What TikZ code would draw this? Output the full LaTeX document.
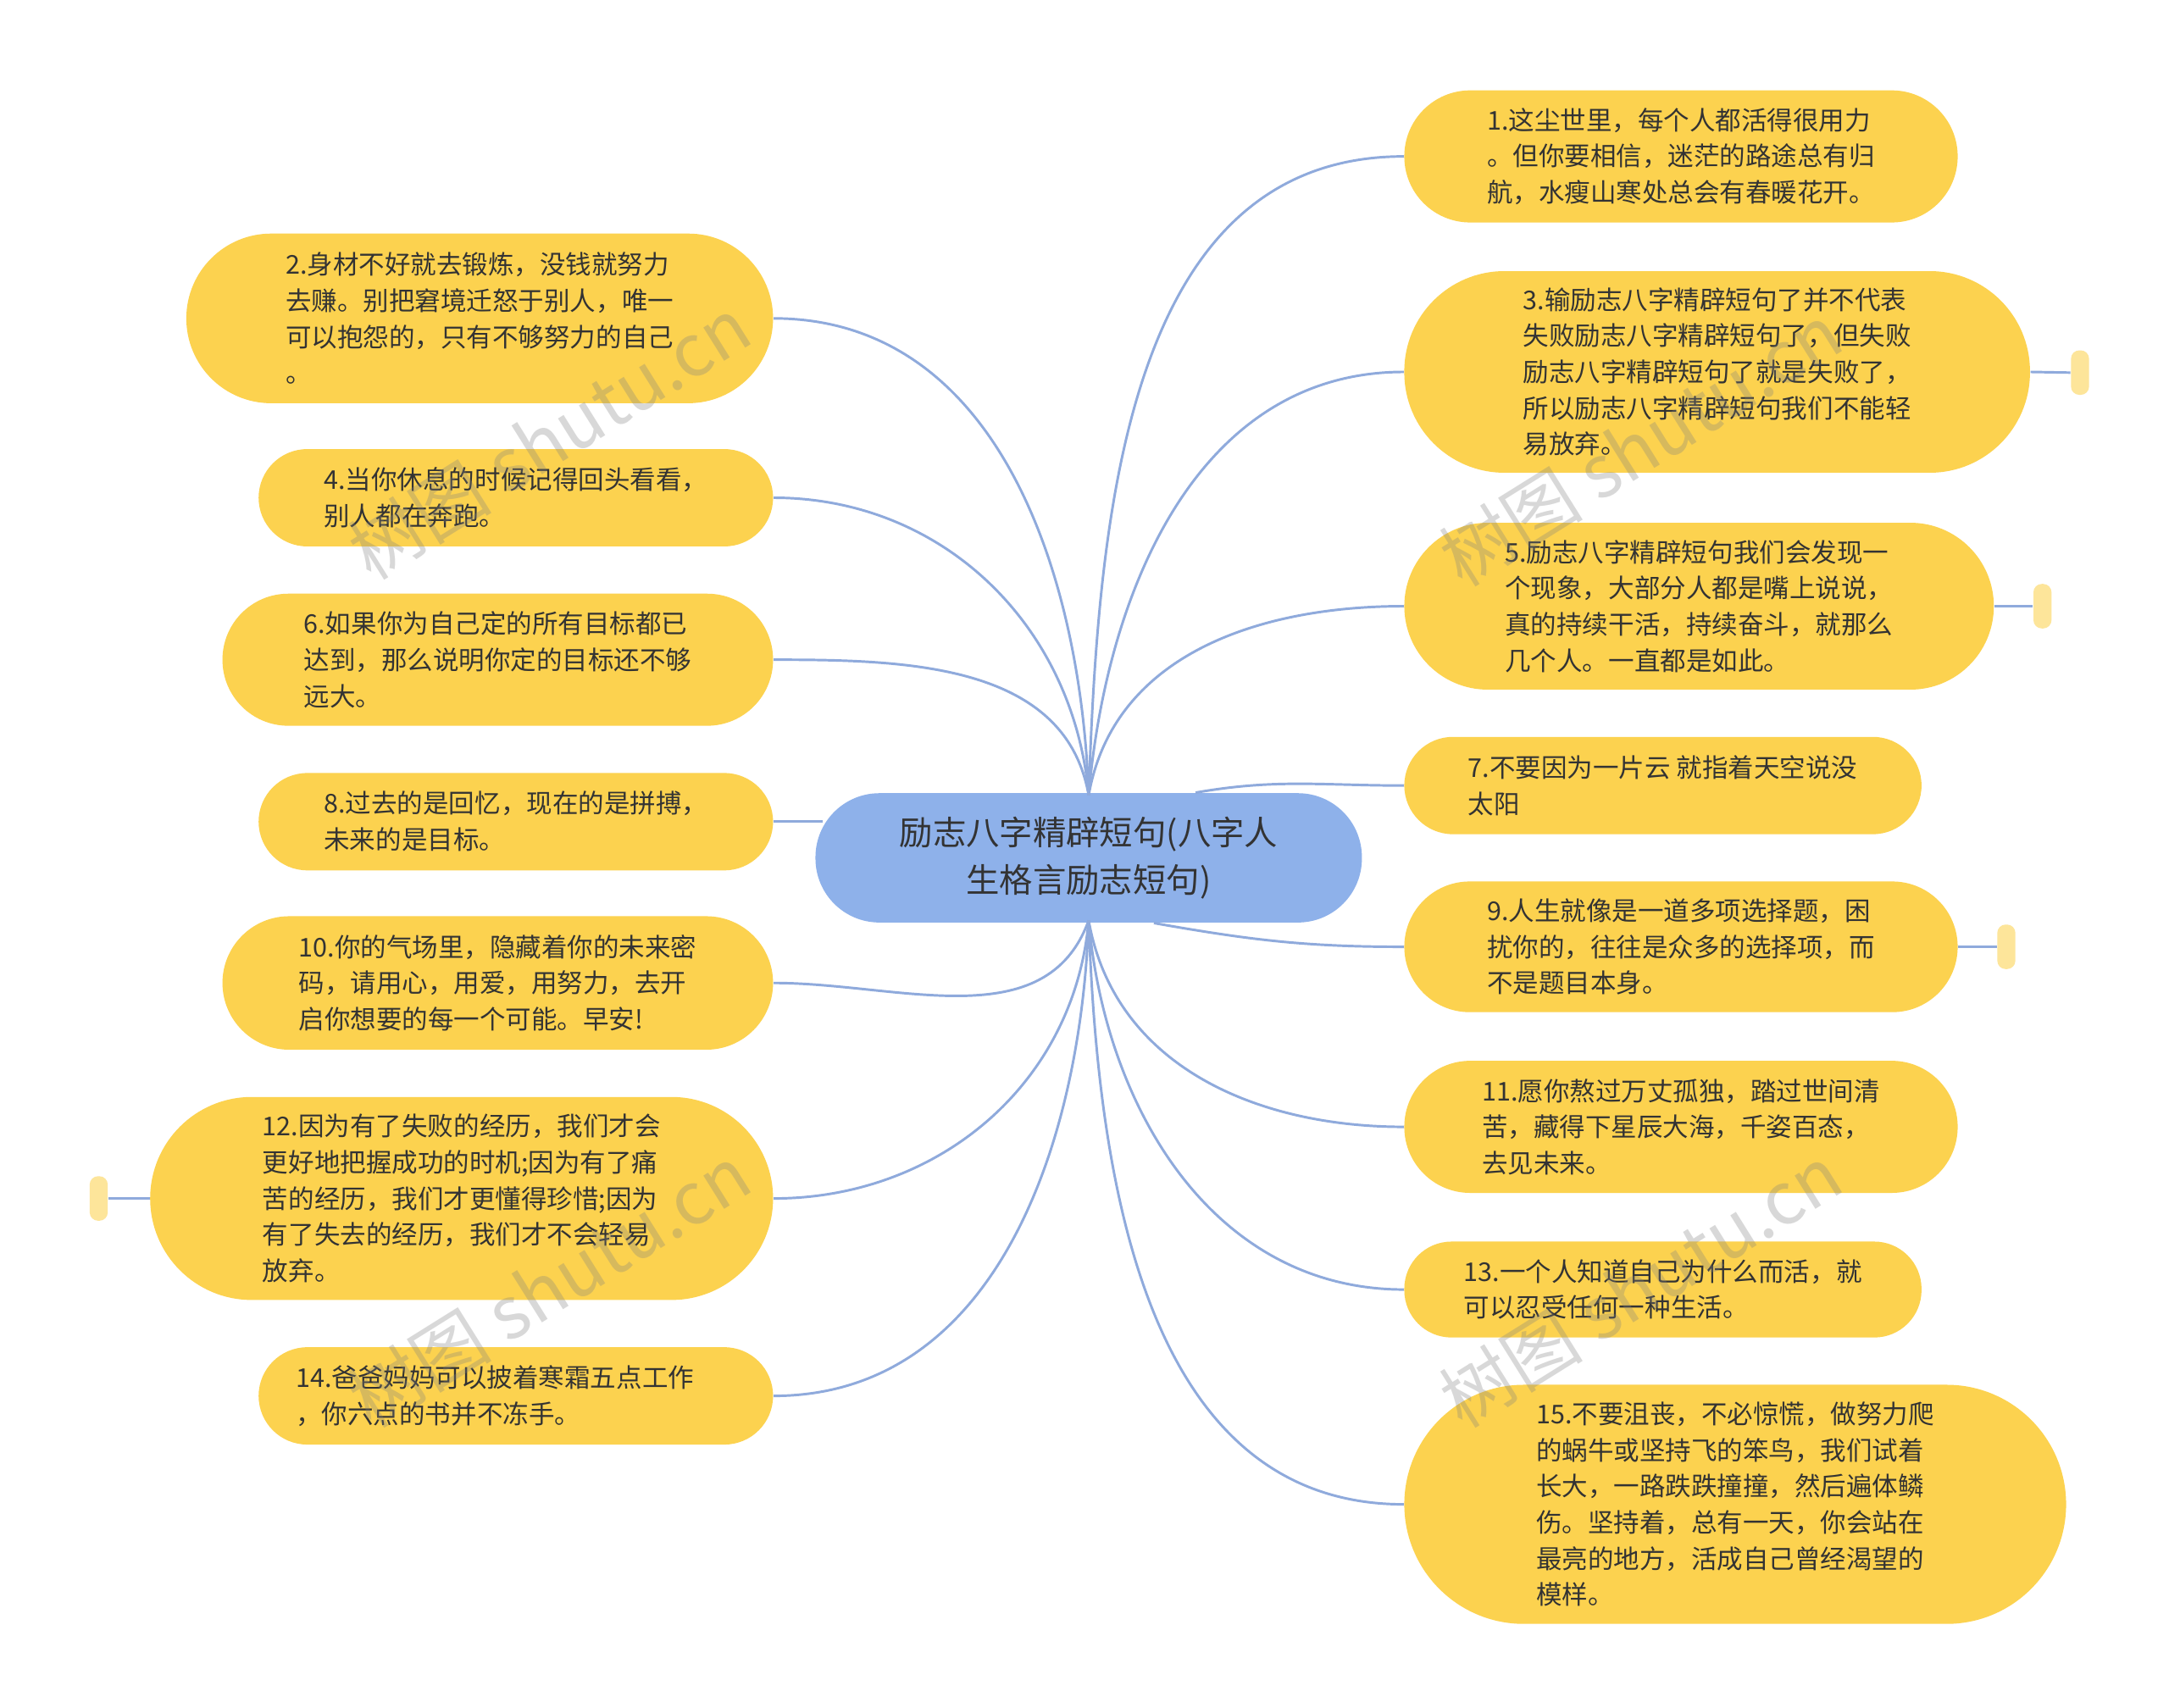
\documentclass[tikz,border=0pt]{standalone}
\usepackage{fontspec}
\setmainfont{Noto Sans CJK SC}
\begin{document}
\begin{tikzpicture}[x=0.5pt,y=-0.5pt,
 leaf/.style={fill=leafc,draw=none,align=left,inner sep=0pt,text=txt,font=\fontsize{9.3pt}{13pt}\selectfont},
 conn/.style={draw=linec,line width=0.9pt},
 tab/.style={fill=tabc,draw=none,minimum width=6.5pt,minimum height=16pt,rounded corners=3pt,inner sep=0pt},
 wm/.style={text=gray,opacity=0.3,font=\fontsize{26pt}{26pt}\selectfont,rotate=32}]
\definecolor{leafc}{HTML}{FCD24F}
\definecolor{linec}{HTML}{8FAADC}
\definecolor{cenc}{HTML}{8EB1EA}
\definecolor{txt}{HTML}{333333}
\definecolor{tabc}{HTML}{FDE59A}
\useasboundingbox (0,0) rectangle (1560,1228);
\fill[white] (0,0) rectangle (1560,1228);
% center
\node[fill=cenc,minimum width=196.5pt,minimum height=46.5pt,rounded corners=23pt,align=center,text=txt,font=\fontsize{12pt}{17pt}\selectfont,inner sep=0pt] (c) at (783,617) {励志八字精辟短句(八字人\\生格言励志短句)};
\coordinate (ct) at (783,572);
\coordinate (cb) at (783,662);
\coordinate (c8) at (592,591);
% right
\node[leaf,minimum width=199pt,minimum height=47.5pt,rounded corners=23.7pt] (n1) at (1209,112.5) {1.这尘世里，每个人都活得很用力\\。但你要相信，迷茫的路途总有归\\航，水瘦山寒处总会有春暖花开。};
\node[leaf,minimum width=225pt,minimum height=72.5pt,rounded corners=36pt] (n3) at (1235,267.5) {3.输励志八字精辟短句了并不代表\\失败励志八字精辟短句了，但失败\\励志八字精辟短句了就是失败了，\\所以励志八字精辟短句我们不能轻\\易放弃。};
\node[leaf,minimum width=212pt,minimum height=60pt,rounded corners=30pt] (n5) at (1222,436) {5.励志八字精辟短句我们会发现一\\个现象，大部分人都是嘴上说说，\\真的持续干活，持续奋斗，就那么\\几个人。一直都是如此。};
\node[leaf,minimum width=186pt,minimum height=35pt,rounded corners=17.5pt] (n7) at (1196,565) {7.不要因为一片云 就指着天空说没\\太阳\phantom{一片云 就指着天空说没}};
\node[leaf,minimum width=199pt,minimum height=47pt,rounded corners=23.5pt] (n9) at (1209,681) {9.人生就像是一道多项选择题，困\\扰你的，往往是众多的选择项，而\\不是题目本身。};
\node[leaf,minimum width=199pt,minimum height=47.5pt,rounded corners=23.7pt] (n11) at (1209,810.5) {11.愿你熬过万丈孤独，踏过世间清\\苦，藏得下星辰大海，千姿百态，\\去见未来。};
\node[leaf,minimum width=186pt,minimum height=34.5pt,rounded corners=17pt] (n13) at (1196,927.5) {13.一个人知道自己为什么而活，就\\可以忍受任何一种生活。\phantom{什么而活}};
\node[leaf,minimum width=238pt,minimum height=86pt,rounded corners=43pt] (n15) at (1248,1082) {15.不要沮丧，不必惊慌，做努力爬\\的蜗牛或坚持飞的笨鸟，我们试着\\长大，一路跌跌撞撞，然后遍体鳞\\伤。坚持着，总有一天，你会站在\\最亮的地方，活成自己曾经渴望的\\模样。};
% left
\node[leaf,minimum width=211pt,minimum height=61pt,rounded corners=30.5pt] (n2) at (345,229) {2.身材不好就去锻炼，没钱就努力\\去赚。别把窘境迁怒于别人，唯一\\可以抱怨的，只有不够努力的自己\\。};
\node[leaf,minimum width=185pt,minimum height=35pt,rounded corners=17.5pt] (n4) at (371,358) {4.当你休息的时候记得回头看看，\\别人都在奔跑。\phantom{记得回头看看，}};
\node[leaf,minimum width=198pt,minimum height=47.5pt,rounded corners=23.7pt] (n6) at (358,474.5) {6.如果你为自己定的所有目标都已\\达到，那么说明你定的目标还不够\\远大。};
\node[leaf,minimum width=185pt,minimum height=35pt,rounded corners=17.5pt] (n8) at (371,591) {8.过去的是回忆，现在的是拼搏，\\未来的是目标。\phantom{现在的是拼搏，}};
\node[leaf,minimum width=198pt,minimum height=48pt,rounded corners=24pt] (n10) at (358,707) {10.你的气场里，隐藏着你的未来密\\码，请用心，用爱，用努力，去开\\启你想要的每一个可能。早安!};
\node[leaf,minimum width=224pt,minimum height=73pt,rounded corners=36.5pt] (n12) at (332,862) {12.因为有了失败的经历，我们才会\\更好地把握成功的时机;因为有了痛\\苦的经历，我们才更懂得珍惜;因为\\有了失去的经历，我们才不会轻易\\放弃。};
\node[leaf,minimum width=185pt,minimum height=35pt,rounded corners=17.5pt] (n14) at (371,1004) {14.爸爸妈妈可以披着寒霜五点工作\\，你六点的书并不冻手。\phantom{寒霜五点工作}};
% tabs
\node[tab] (t3) at (1496,268) {};
\node[tab] (t5) at (1469,436) {};
\node[tab] (t9) at (1443,681) {};
\node[tab] (t12) at (71,862) {};
\draw[conn] (n3.east) -- (t3.west);
\draw[conn] (n5.east) -- (t5.west);
\draw[conn] (n9.east) -- (t9.west);
\draw[conn] (n12.west) -- (t12.east);
% connectors
\draw[conn] (ct) to[out=88,in=180] (n1.west);
\draw[conn] (ct) to[out=85,in=180] (n3.west);
\draw[conn] (ct) to[out=80,in=180] (n5.west);
\draw[conn] (c.north east) ++(-60pt,0) coordinate (c7) (c7) to[out=10,in=180] (n7.west);
\draw[conn] (c.south east) ++(-75pt,0) coordinate (c9) (c9) to[out=-10,in=180] (n9.west);
\draw[conn] (cb) to[out=-80,in=180] (n11.west);
\draw[conn] (cb) to[out=-85,in=180] (n13.west);
\draw[conn] (cb) to[out=-88,in=180] (n15.west);
\draw[conn] (ct) to[out=92,in=0] (n2.east);
\draw[conn] (ct) to[out=95,in=0] (n4.east);
\draw[conn] (ct) to[out=100,in=0] (n6.east);
\draw[conn] (c8) -- (n8.east);
\draw[conn] (cb) to[out=-110,in=0] (n10.east);
\draw[conn] (cb) to[out=-95,in=0] (n12.east);
\draw[conn] (cb) to[out=-92,in=0] (n14.east);
% watermarks
\node[wm] at (395,315) {树图 shutu.cn};
\node[wm] at (395,925) {树图 shutu.cn};
\node[wm] at (1180,320) {树图 shutu.cn};
\node[wm] at (1180,925) {树图 shutu.cn};
\end{tikzpicture}
\end{document}
